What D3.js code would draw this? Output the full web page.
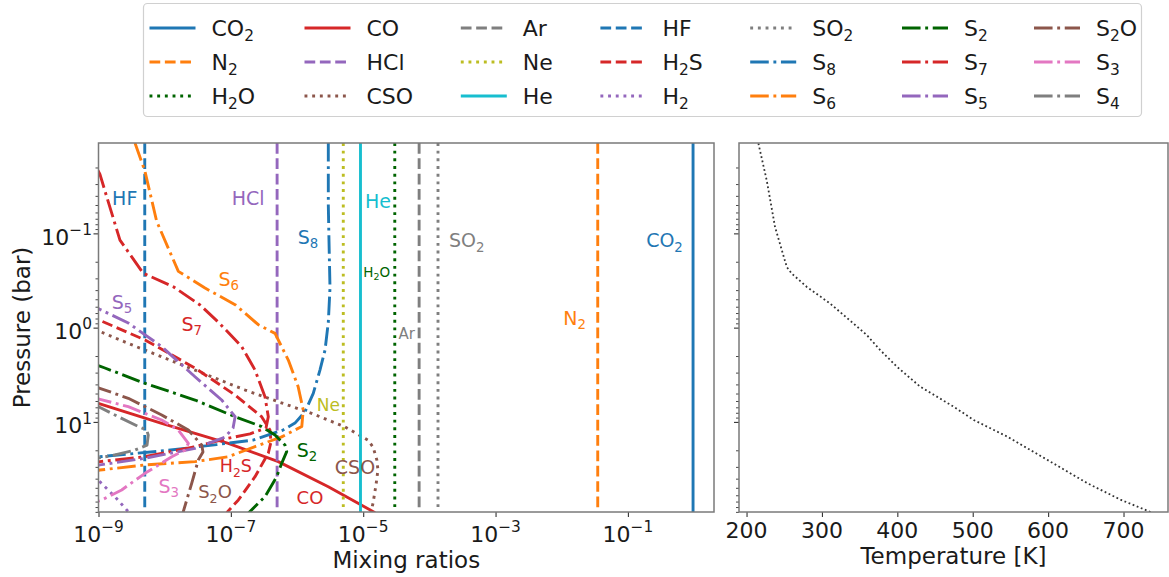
<!DOCTYPE html>
<html>
<head>
<meta charset="utf-8">
<script src="https://cdn.jsdelivr.net/npm/d3@7"></script>
<style>
  html, body { margin: 0; padding: 0; background: #fff; }
  svg { display: block; font-family: "DejaVu Sans", sans-serif; }
</style>
</head>
<body>
<svg id="chart" width="1169" height="577"></svg>
<script>
// ---------------------------------------------------------------
// Venus-like lower atmosphere: mixing-ratio profiles and T profile
// Each profile: [pressure (bar), volume mixing ratio]
// ---------------------------------------------------------------
const P_TOP = 0.0110, P_SURF = 90.3;

const CO2 = [[P_TOP, 0.965], [P_SURF, 0.965]];
const N2  = [[P_TOP, 0.035], [P_SURF, 0.035]];
const H2O = [[P_TOP, 3.0e-5], [P_SURF, 3.0e-5]];
const CO  = [[4.8, 3e-10], [6.38, 1.02e-9], [10.35, 9.02e-9], [16.9, 9.14e-8], [26.4, 5.21e-7], [48.7, 2.97e-6], [89.6, 1.42e-5], [95, 1.6e-5]];
const HCl = [[P_TOP, 5.0e-7], [P_SURF, 5.0e-7]];
const CSO = [[0.5, 1e-10], [1.09, 1.02e-9], [1.47, 2.82e-9], [2.04, 9.02e-9], [3.32, 5.13e-8], [4.59, 1.64e-7], [6.11, 5.21e-7], [8.11, 1.66e-6], [11.3, 5.31e-6], [15.6, 1.18e-5], [18.5, 1.41e-5], [25.4, 1.61e-5], [32.4, 1.67e-5], [46.7, 1.56e-5], [72.4, 1.41e-5], [90.3, 1.31e-5]];
const Ar  = [[P_TOP, 7.0e-5], [P_SURF, 7.0e-5]];
const Ne  = [[P_TOP, 5.0e-6], [P_SURF, 5.0e-6]];
const He  = [[P_TOP, 9.1e-6], [P_SURF, 9.1e-6]];
const HF  = [[P_TOP, 5.0e-9], [P_SURF, 5.0e-9]];
const H2S = [[0.4, 1e-10], [0.830, 1.02e-9], [1.35, 5.04e-9], [2.68, 2.87e-8], [5.19, 1.16e-7], [8.81, 2.92e-7], [12.2, 3.90e-7], [16.3, 4.04e-7], [21.5, 3.68e-7], [38.1, 2.32e-7], [67.3, 1.30e-7], [91.8, 8.65e-8]];
const H2  = [[30, 3e-10], [42.3, 1.02e-9], [62.1, 1.77e-9], [89.6, 2.82e-9], [95, 3.0e-9]];
const SO2 = [[P_TOP, 1.35e-4], [P_SURF, 1.35e-4]];
const S8  = [[P_TOP, 2.97e-6], [0.0501, 2.97e-6], [0.118, 3.04e-6], [0.380, 3.15e-6], [0.873, 2.97e-6], [1.73, 2.65e-6], [2.82, 2.22e-6], [4.97, 1.76e-6], [7.80, 1.32e-6], [10.3, 9.31e-7], [12.2, 6.14e-7], [15.6, 2.16e-7], [17.4, 6.11e-8], [20.1, 1.07e-8], [23.4, 1.05e-9], [35, 1e-10], [90, 1e-12]];
const S6  = [[P_TOP, 3.56e-9], [0.0220, 5.04e-9], [0.0746, 7.57e-9], [0.253, 1.61e-8], [0.380, 4.07e-8], [0.571, 1.16e-7], [0.931, 2.60e-7], [1.15, 4.65e-7], [2.21, 7.38e-7], [4.23, 1.04e-6], [7.48, 1.24e-6], [11.2, 1.18e-6], [14.4, 5.86e-7], [18.3, 2.32e-7], [23.4, 9.14e-8], [26.4, 2.87e-8], [28.6, 5.04e-9], [32.4, 1.05e-9], [45, 1e-10], [90, 1e-12]];
const S2  = [[2.0, 1e-10], [2.55, 1.02e-9], [2.68, 1.25e-9], [3.90, 5.04e-9], [5.86, 2.87e-8], [8.81, 1.16e-7], [11.2, 2.92e-7], [13.8, 4.65e-7], [17.6, 6.58e-7], [20.7, 6.98e-7], [27.5, 5.86e-7], [38.1, 4.93e-7], [62.1, 3.28e-7], [93.2, 1.83e-7]];
const S7  = [[P_TOP, 6e-10], [0.0235, 1.05e-9], [0.0409, 1.33e-9], [0.118, 2.11e-9], [0.265, 4.75e-9], [0.368, 1.35e-8], [0.575, 3.42e-8], [0.873, 6.46e-8], [1.59, 1.46e-7], [2.82, 2.32e-7], [5.40, 3.28e-7], [8.81, 3.68e-7], [11.6, 3.40e-7], [13.4, 1.95e-7], [14.9, 9.14e-8], [18.3, 2.87e-8], [23.4, 5.04e-9], [26.4, 1.05e-9], [40, 1e-10], [90, 1e-12]];
const S5  = [[0.3, 3e-10], [0.635, 1.02e-9], [0.893, 2.82e-9], [1.59, 9.02e-9], [3.32, 2.87e-8], [5.86, 7.27e-8], [8.81, 1.16e-7], [11.6, 1.08e-7], [14.5, 8.15e-8], [19.1, 2.87e-8], [24.3, 5.04e-9], [28.6, 1.05e-9], [40, 1e-10], [90, 1e-12]];
const S2O = [[3.5, 1e-10], [4.37, 1.02e-9], [5.62, 2.82e-9], [8.45, 9.02e-9], [12.2, 2.28e-8], [17.6, 3.63e-8], [20.9, 3.79e-8], [25.4, 3.22e-8], [44.8, 2.56e-8], [89.6, 1.91e-8], [95, 1.85e-8]];
const S3  = [[4.5, 1e-10], [5.72, 1.02e-9], [6.90, 2.82e-9], [9.55, 9.02e-9], [12.2, 1.61e-8], [16.9, 2.28e-8], [19.9, 2.03e-8], [23.4, 1.28e-8], [35.1, 5.04e-9], [52.7, 2.24e-9], [67.3, 1.12e-9], [90, 3e-10]];
const S4  = [[5, 1e-10], [6.95, 1.02e-9], [8.45, 1.77e-9], [11.2, 3.99e-9], [12.2, 5.35e-9], [13.8, 5.65e-9], [17.6, 5.41e-9], [19.9, 3.56e-9], [22.4, 1.77e-9], [24.1, 1.02e-9], [35, 1e-10], [90, 1e-12]];

// Plot / legend order
const speciesNames  = ["CO2","N2","H2O","CO","HCl","CSO","Ar","Ne","He","HF","H2S","H2","SO2","S8","S6","S2","S7","S5","S2O","S3","S4"];
const speciesLabels = ["CO_2","N_2","H_2O","CO","HCl","CSO","Ar","Ne","He","HF","H_2S","H_2","SO_2","S_8","S_6","S_2","S_7","S_5","S_2O","S_3","S_4"];
const speciesProfiles = [CO2, N2, H2O, CO, HCl, CSO, Ar, Ne, He, HF, H2S, H2, SO2, S8, S6, S2, S7, S5, S2O, S3, S4];

// Temperature profile
const tpPressure    = [0.0111, 0.0275, 0.0857, 0.2275, 0.267, 0.370, 0.555, 0.904, 1.20, 1.73, 2.60, 4.23, 6.89, 9.53, 14.3, 25.2, 44.6, 66.8, 90.4];
const tpTemperature = [215.7, 226.8, 237.8, 253.4, 260, 280, 310.9, 341.8, 359.6, 377.3, 399.5, 430.3, 474.6, 501.2, 545.6, 598.7, 651.8, 696, 735.9];

// In-plot annotations: [text, mixing ratio, pressure]
const annotations = [
  ["HF", 2.49e-9, 0.0423], ["HCl", 1.82e-7, 0.0423], ["S_8", 1.46e-6, 0.109],
  ["He", 1.67e-5, 0.0455], ["H_2O", 1.60e-5, 0.255], ["SO_2", 3.66e-4, 0.118],
  ["CO_2", 0.357, 0.118], ["N_2", 0.0156, 0.791], ["Ar", 4.54e-5, 1.17],
  ["S_6", 9.28e-8, 0.305], ["S_5", 2.26e-9, 0.535], ["S_7", 2.56e-8, 0.916],
  ["Ne", 2.97e-6, 6.62], ["S_2", 1.41e-6, 19.9], ["CSO", 7.51e-6, 29.9],
  ["H_2S", 1.19e-7, 29.4], ["S_3", 1.15e-8, 47.8], ["S_2O", 5.76e-8, 55.4],
  ["CO", 1.57e-6, 63.3]
];

// Tick values
const mixTicks  = [1e-9, 1e-7, 1e-5, 1e-3, 1e-1];
const mixTickExp = ["−9", "−7", "−5", "−3", "−1"];
const presTicks = [0.1, 1, 10];
const presTickExp = ["−1", "0", "1"];
const tempTicks = [200, 300, 400, 500, 600, 700];

// ---------------------------------------------------------------
// Styles
// ---------------------------------------------------------------
const colorOf = {
  CO2:"#1f77b4", N2:"#ff7f0e", H2O:"#006400", CO:"#d62728", HCl:"#9467bd", CSO:"#8c564b",
  Ar:"#7f7f7f", Ne:"#bcbd22", He:"#17becf", HF:"#1f77b4", H2S:"#d62728", H2:"#9467bd",
  SO2:"#7f7f7f", S8:"#1f77b4", S6:"#ff7f0e", S2:"#006400", S7:"#d62728", S5:"#9467bd",
  S2O:"#8c564b", S3:"#e377c2", S4:"#7f7f7f"
};
const styleOf = {
  CO2:"solid", N2:"dashed", H2O:"dotted", CO:"solid", HCl:"dashed", CSO:"dotted",
  Ar:"dashed", Ne:"dotted", He:"solid", HF:"dashed", H2S:"dashed", H2:"dotted",
  SO2:"dotted", S8:"dashdot", S6:"dashdot", S2:"dashdot", S7:"dashdot", S5:"dashdot",
  S2O:"dashdot", S3:"dashdot", S4:"dashdot"
};
const LW = 2.9;
const dashes = {
  solid: null,
  dashed: [3.7 * LW, 1.6 * LW].join(","),
  dotted: [1 * LW, 1.65 * LW].join(","),
  dashdot: [6.4 * LW, 1.6 * LW, 1 * LW, 1.6 * LW].join(",")
};
const labelSize = { "H_2O": 13.5, "Ar": 15, "Ne": 17, "H_2S": 17.5, "CO": 18, "S_2O": 18 };
const TEXT = "#1a1a1a";
const SPINE = "#7a7a7a";

// ---------------------------------------------------------------
// Layout and scales
// ---------------------------------------------------------------
const left  = { x0: 98.5, x1: 714, y0: 143, y1: 512 };
const right = { x0: 739, x1: 1168, y0: 143, y1: 512 };

const x = d3.scaleLog().domain([1e-9, 2]).range([left.x0, left.x1]);
const y = d3.scaleLog().domain([P_TOP, P_SURF]).range([left.y0, left.y1]);
const xT = d3.scaleLinear().domain([190, 759]).range([right.x0, right.x1]);

const svg = d3.select("#chart");

// text with simple sub/superscript markup: "_c" subscript one char, "^{..}" superscript
function rich(sel, str, size) {
  const parts = [];
  let i = 0;
  while (i < str.length) {
    if (str[i] === "_") { parts.push({ t: str[i + 1], k: "sub" }); i += 2; }
    else if (str[i] === "^") { const j = str.indexOf("}", i); parts.push({ t: str.slice(i + 2, j), k: "sup" }); i = j + 1; }
    else { let t = ""; while (i < str.length && str[i] !== "_" && str[i] !== "^") { t += str[i]; i++; } parts.push({ t, k: "n" }); }
  }
  let cur = 0;
  parts.forEach(p => {
    const target = p.k === "sub" ? size * 0.24 : p.k === "sup" ? -size * 0.45 : 0;
    sel.append("tspan")
      .attr("font-size", p.k === "n" ? size : size * 0.7)
      .attr("dy", target - cur)
      .text(p.t);
    cur = target;
  });
  return sel;
}

const defs = svg.append("defs");
defs.append("clipPath").attr("id", "clipL").append("rect")
  .attr("x", left.x0).attr("y", left.y0).attr("width", left.x1 - left.x0).attr("height", left.y1 - left.y0);
defs.append("clipPath").attr("id", "clipR").append("rect")
  .attr("x", right.x0).attr("y", right.y0).attr("width", right.x1 - right.x0).attr("height", right.y1 - right.y0);

// ---------------------------------------------------------------
// Left panel: mixing ratios
// ---------------------------------------------------------------
const line = d3.line().x(d => x(d[1])).y(d => y(d[0]));
const gL = svg.append("g").attr("clip-path", "url(#clipL)");
speciesNames.forEach((name, i) => {
  gL.append("path")
    .attr("d", line(speciesProfiles[i]))
    .attr("fill", "none")
    .attr("stroke", colorOf[name])
    .attr("stroke-width", LW)
    .attr("stroke-dasharray", dashes[styleOf[name]])
    .attr("stroke-linecap", "butt")
    .attr("stroke-linejoin", "round");
});

// annotations
const labelColor = {};
speciesLabels.forEach((l, i) => labelColor[l] = colorOf[speciesNames[i]]);
annotations.forEach(([txt, mx, p]) => {
  const size = labelSize[txt] || 19;
  const t = svg.append("text")
    .attr("x", x(mx)).attr("y", y(p) + size * 0.36)
    .attr("text-anchor", "middle")
    .attr("fill", labelColor[txt]);
  rich(t, txt, size);
});

// axes: left panel
const minorP = [];
[0.01, 0.1, 1, 10].forEach(dec => { for (let k = 2; k <= 9; k++) { const v = dec * k; if (v >= P_TOP && v <= P_SURF) minorP.push(v); } });

function yTicks(g, xpos) {
  g.append("g").attr("transform", `translate(${xpos},0)`)
    .call(d3.axisLeft(y).tickValues(presTicks).tickSize(5).tickFormat(""))
    .call(s => s.select(".domain").remove())
    .selectAll("line").attr("stroke", "#333").attr("stroke-width", 1.1);
  g.append("g").attr("transform", `translate(${xpos},0)`)
    .call(d3.axisLeft(y).tickValues(minorP).tickSize(3).tickFormat(""))
    .call(s => s.select(".domain").remove())
    .selectAll("line").attr("stroke", "#333").attr("stroke-width", 0.9);
}
yTicks(svg, left.x0);
yTicks(svg, right.x0);

svg.append("g").attr("transform", `translate(0,${left.y1})`)
  .call(d3.axisBottom(x).tickValues(mixTicks).tickSize(5).tickFormat(""))
  .call(s => s.select(".domain").remove())
  .selectAll("line").attr("stroke", "#333").attr("stroke-width", 1.1);

mixTicks.forEach((v, i) => {
  const t = svg.append("text").attr("x", x(v)).attr("y", 541.5)
    .attr("text-anchor", "middle").attr("fill", TEXT);
  rich(t, "10^{" + mixTickExp[i] + "}", 22);
});
presTicks.forEach((v, i) => {
  const t = svg.append("text").attr("x", 92).attr("y", y(v) + 11.5)
    .attr("text-anchor", "end").attr("fill", TEXT);
  rich(t, "10^{" + presTickExp[i] + "}", 22);
});

// ---------------------------------------------------------------
// Right panel: temperature profile
// ---------------------------------------------------------------
const tpLine = d3.line().x(i => xT(tpTemperature[i])).y(i => y(tpPressure[i]));
svg.append("g").attr("clip-path", "url(#clipR)")
  .append("path")
  .attr("d", tpLine(d3.range(tpPressure.length)))
  .attr("fill", "none")
  .attr("stroke", "#333")
  .attr("stroke-width", 1.8)
  .attr("stroke-dasharray", "1.8,2.6");

svg.append("g").attr("transform", `translate(0,${right.y1})`)
  .call(d3.axisBottom(xT).tickValues(tempTicks).tickSize(5).tickFormat(""))
  .call(s => s.select(".domain").remove())
  .selectAll("line").attr("stroke", "#333").attr("stroke-width", 1.1);
tempTicks.forEach(v => {
  svg.append("text").attr("x", xT(v)).attr("y", 537.5)
    .attr("text-anchor", "middle").attr("font-size", 22).attr("fill", TEXT).text(v);
});

// spines
[left, right].forEach(b => {
  svg.append("rect").attr("x", b.x0).attr("y", b.y0)
    .attr("width", b.x1 - b.x0).attr("height", b.y1 - b.y0)
    .attr("fill", "none").attr("stroke", SPINE).attr("stroke-width", 1.5);
});

// axis titles
svg.append("text").attr("x", (left.x0 + left.x1) / 2).attr("y", 568)
  .attr("text-anchor", "middle").attr("font-size", 23).attr("fill", TEXT).text("Mixing ratios");
svg.append("text").attr("x", (right.x0 + right.x1) / 2).attr("y", 563.5)
  .attr("text-anchor", "middle").attr("font-size", 23).attr("fill", TEXT).text("Temperature [K]");
svg.append("text").attr("transform", `translate(30,${(left.y0 + left.y1) / 2}) rotate(-90)`)
  .attr("text-anchor", "middle").attr("font-size", 23).attr("fill", TEXT).text("Pressure (bar)");

// ---------------------------------------------------------------
// Legend (7 columns, filled column by column)
// ---------------------------------------------------------------
const legendBox = { x: 143.5, y: 3.5, w: 998, h: 113 };
const legendCols = [149.5, 304.5, 460.8, 600.4, 750.2, 902, 1034];
const legendRows = [28, 62, 96];
const lg = svg.append("g");
lg.append("rect").attr("x", legendBox.x).attr("y", legendBox.y)
  .attr("width", legendBox.w).attr("height", legendBox.h).attr("rx", 4)
  .attr("fill", "#fff").attr("fill-opacity", 0.8).attr("stroke", "#d0d0d0").attr("stroke-width", 1.2);
speciesNames.forEach((name, i) => {
  const cx = legendCols[Math.floor(i / 3)], cy = legendRows[i % 3];
  lg.append("line").attr("x1", cx).attr("x2", cx + 46).attr("y1", cy).attr("y2", cy)
    .attr("stroke", colorOf[name]).attr("stroke-width", LW)
    .attr("stroke-dasharray", dashes[styleOf[name]]);
  const t = lg.append("text").attr("x", cx + 62).attr("y", cy + 8).attr("fill", TEXT);
  rich(t, speciesLabels[i], 22);
});
</script>
</body>
</html>
